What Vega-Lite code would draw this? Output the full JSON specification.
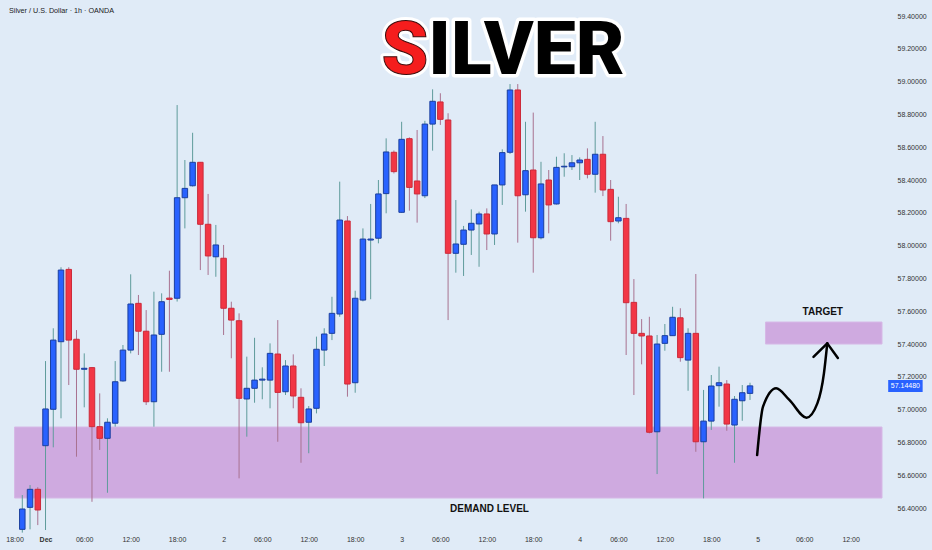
{
  "$schema": "https://vega.github.io/schema/vega-lite/v6.json",
  "width": 887,
  "height": 530,
  "autosize": {"type": "none"},
  "padding": {"left": 0, "top": 0, "right": 45, "bottom": 20},
  "background": "#e0ebf7",
  "config": {
    "view": {"stroke": null},
    "axis": {"domain": false, "ticks": false, "grid": false, "title": null, "labelFont": "Liberation Sans", "labelFontSize": 7, "labelColor": "#333333", "labelOverlap": false, "labelBound": false},
    "axisY": {"labelOverlap": false, "tickCount": 16}
  },
  "datasets": {
    "candles": [
      {"n":0,"o":56.27,"h":56.479,"l":56.25,"c":56.394},
      {"n":1,"o":56.404,"h":56.54,"l":56.27,"c":56.514},
      {"n":2,"o":56.514,"h":56.527,"l":56.296,"c":56.388},
      {"n":3,"o":56.78,"h":57.296,"l":56.266,"c":57.004},
      {"n":4,"o":57.002,"h":57.496,"l":56.77,"c":57.424},
      {"n":5,"o":57.414,"h":57.868,"l":56.947,"c":57.851},
      {"n":6,"o":57.855,"h":57.868,"l":57.15,"c":57.424},
      {"n":7,"o":57.429,"h":57.485,"l":56.713,"c":57.246},
      {"n":8,"o":57.246,"h":57.343,"l":57.014,"c":57.252},
      {"n":9,"o":57.256,"h":57.26,"l":56.438,"c":56.896},
      {"n":10,"o":56.896,"h":57.099,"l":56.754,"c":56.825},
      {"n":11,"o":56.825,"h":56.947,"l":56.493,"c":56.923},
      {"n":12,"o":56.917,"h":57.296,"l":56.896,"c":57.17},
      {"n":13,"o":57.175,"h":57.394,"l":57.17,"c":57.363},
      {"n":14,"o":57.363,"h":57.825,"l":57.343,"c":57.644},
      {"n":15,"o":57.648,"h":57.699,"l":57.333,"c":57.478},
      {"n":16,"o":57.478,"h":57.607,"l":57.028,"c":57.048},
      {"n":17,"o":57.048,"h":57.719,"l":56.896,"c":57.455},
      {"n":18,"o":57.459,"h":57.709,"l":57.231,"c":57.658},
      {"n":19,"o":57.68,"h":57.847,"l":57.231,"c":57.672},
      {"n":20,"o":57.679,"h":58.857,"l":57.659,"c":58.292},
      {"n":21,"o":58.292,"h":58.522,"l":58.105,"c":58.349},
      {"n":22,"o":58.365,"h":58.688,"l":58.36,"c":58.508},
      {"n":23,"o":58.508,"h":58.51,"l":57.851,"c":58.13},
      {"n":24,"o":58.13,"h":58.315,"l":57.821,"c":57.937},
      {"n":25,"o":57.932,"h":58.126,"l":57.81,"c":58.004},
      {"n":26,"o":57.923,"h":58.004,"l":57.455,"c":57.618},
      {"n":27,"o":57.618,"h":57.658,"l":57.313,"c":57.546},
      {"n":28,"o":57.542,"h":57.587,"l":56.581,"c":57.069},
      {"n":29,"o":57.065,"h":57.323,"l":56.835,"c":57.13},
      {"n":30,"o":57.13,"h":57.438,"l":57.042,"c":57.18},
      {"n":31,"o":57.18,"h":57.258,"l":57.063,"c":57.186},
      {"n":32,"o":57.18,"h":57.404,"l":57.008,"c":57.343},
      {"n":33,"o":57.339,"h":57.546,"l":56.804,"c":57.105},
      {"n":34,"o":57.109,"h":57.302,"l":57.089,"c":57.266},
      {"n":35,"o":57.266,"h":57.337,"l":57.008,"c":57.083},
      {"n":36,"o":57.075,"h":57.13,"l":56.676,"c":56.92},
      {"n":37,"o":56.923,"h":57.022,"l":56.734,"c":57.004},
      {"n":38,"o":57.008,"h":57.445,"l":56.977,"c":57.368},
      {"n":39,"o":57.363,"h":57.496,"l":57.266,"c":57.461},
      {"n":40,"o":57.465,"h":57.688,"l":57.424,"c":57.587},
      {"n":41,"o":57.583,"h":58.39,"l":57.566,"c":58.156},
      {"n":42,"o":58.15,"h":58.18,"l":57.079,"c":57.156},
      {"n":43,"o":57.164,"h":57.725,"l":57.103,"c":57.679},
      {"n":44,"o":57.668,"h":58.105,"l":57.66,"c":58.04},
      {"n":45,"o":58.034,"h":58.254,"l":57.673,"c":58.04},
      {"n":46,"o":58.045,"h":58.4,"l":58.014,"c":58.315},
      {"n":47,"o":58.317,"h":58.654,"l":58.197,"c":58.571},
      {"n":48,"o":58.569,"h":58.58,"l":58.44,"c":58.451},
      {"n":49,"o":58.203,"h":58.755,"l":58.2,"c":58.648},
      {"n":50,"o":58.652,"h":58.66,"l":58.213,"c":58.355},
      {"n":51,"o":58.394,"h":58.705,"l":58.14,"c":58.315},
      {"n":52,"o":58.304,"h":58.761,"l":58.29,"c":58.741},
      {"n":53,"o":58.741,"h":58.953,"l":58.579,"c":58.88},
      {"n":54,"o":58.876,"h":58.929,"l":58.736,"c":58.77},
      {"n":55,"o":58.766,"h":58.807,"l":57.546,"c":57.953},
      {"n":56,"o":57.953,"h":58.278,"l":57.835,"c":58.01},
      {"n":57,"o":58.008,"h":58.12,"l":57.815,"c":58.095},
      {"n":58,"o":58.095,"h":58.221,"l":57.943,"c":58.136},
      {"n":59,"o":58.132,"h":58.207,"l":57.871,"c":58.193},
      {"n":60,"o":58.193,"h":58.227,"l":57.973,"c":58.071},
      {"n":61,"o":58.071,"h":58.37,"l":58.004,"c":58.37},
      {"n":62,"o":58.37,"h":58.587,"l":58.248,"c":58.567},
      {"n":63,"o":58.569,"h":58.985,"l":58.559,"c":58.949},
      {"n":64,"o":58.949,"h":58.985,"l":58.018,"c":58.304},
      {"n":65,"o":58.31,"h":58.755,"l":58.207,"c":58.457},
      {"n":66,"o":58.461,"h":58.811,"l":57.835,"c":58.048},
      {"n":67,"o":58.048,"h":58.511,"l":58.038,"c":58.376},
      {"n":68,"o":58.4,"h":58.461,"l":58.075,"c":58.248},
      {"n":69,"o":58.254,"h":58.542,"l":58.25,"c":58.477},
      {"n":70,"o":58.48,"h":58.563,"l":58.42,"c":58.484},
      {"n":71,"o":58.481,"h":58.552,"l":58.461,"c":58.505},
      {"n":72,"o":58.505,"h":58.538,"l":58.4,"c":58.522},
      {"n":73,"o":58.526,"h":58.593,"l":58.41,"c":58.435},
      {"n":74,"o":58.435,"h":58.755,"l":58.323,"c":58.557},
      {"n":75,"o":58.557,"h":58.668,"l":58.302,"c":58.339},
      {"n":76,"o":58.343,"h":58.4,"l":58.03,"c":58.146},
      {"n":77,"o":58.15,"h":58.298,"l":58.136,"c":58.17},
      {"n":78,"o":58.166,"h":58.254,"l":57.333,"c":57.652},
      {"n":79,"o":57.654,"h":57.796,"l":57.089,"c":57.465},
      {"n":80,"o":57.465,"h":57.552,"l":57.276,"c":57.449},
      {"n":81,"o":57.449,"h":57.566,"l":56.855,"c":56.862},
      {"n":82,"o":56.865,"h":57.455,"l":56.607,"c":57.4},
      {"n":83,"o":57.404,"h":57.522,"l":57.359,"c":57.451},
      {"n":84,"o":57.451,"h":57.627,"l":57.45,"c":57.563},
      {"n":85,"o":57.56,"h":57.618,"l":57.292,"c":57.317},
      {"n":86,"o":57.302,"h":57.496,"l":57.115,"c":57.465},
      {"n":87,"o":57.465,"h":57.827,"l":56.743,"c":56.804},
      {"n":88,"o":56.804,"h":57.12,"l":56.459,"c":56.93},
      {"n":89,"o":56.93,"h":57.211,"l":56.876,"c":57.144},
      {"n":90,"o":57.146,"h":57.262,"l":57.018,"c":57.164},
      {"n":91,"o":57.156,"h":57.18,"l":56.871,"c":56.912},
      {"n":92,"o":56.906,"h":57.083,"l":56.676,"c":57.063},
      {"n":93,"o":57.054,"h":57.15,"l":56.932,"c":57.103},
      {"n":94,"o":57.099,"h":57.164,"l":57.059,"c":57.1448}
    ],
    "zones": [
      {"zone":"demand","x1":-1.0,"x2":111.05,"y1":56.461,"y2":56.894},
      {"zone":"target","x1":96.0,"x2":111.05,"y1":57.4,"y2":57.534}
    ],
    "curve": [
      {"n":94.92,"p":56.723},
      {"n":95.68,"p":57.018},
      {"n":97.38,"p":57.13},
      {"n":99.08,"p":57.059},
      {"n":101.3,"p":56.951},
      {"n":102.7,"p":57.038},
      {"n":103.55,"p":57.221},
      {"n":103.98,"p":57.404}
    ],
    "head": [
      {"n":102.2,"p":57.321},
      {"n":103.98,"p":57.404},
      {"n":105.35,"p":57.315}
    ],
    "last": [{"price":57.1448,"label":"57.14480"}]
  },
  "layer": [
    {
      "data": {"name": "zones"},
      "mark": {"type": "rect", "color": "#cfaae0", "stroke": "#d6b8e6", "strokeWidth": 1},
      "encoding": {
        "x": {"field": "x1", "type": "quantitative",
              "scale": {"domain": [-2.235, 111.05], "nice": false, "zero": false},
              "axis": {"orient": "bottom",
                       "values": [-1,3,8,14,20,26,31,37,43,49,54,60,66,72,77,83,89,95,101,107],
                       "labelExpr": "['18:00','Dec','06:00','12:00','18:00','2','06:00','12:00','18:00','3','06:00','12:00','18:00','4','06:00','12:00','18:00','5','06:00','12:00'][indexof([-1,3,8,14,20,26,31,37,43,49,54,60,66,72,77,83,89,95,101,107], datum.value)]",
                       "labelPadding": 5, "labelFlush": false, "labelOverlap": false,
                       "labelFontWeight": {"condition": {"test": "datum.value == 3", "value": "bold"}, "value": "normal"}}},
        "x2": {"field": "x2"},
        "y": {"field": "y1", "type": "quantitative",
              "scale": {"domain": [56.266, 59.4976], "nice": false, "zero": false},
              "axis": {"orient": "right", "tickCount": 16,
                       "format": ".5f", "labelPadding": 10, "labelFlush": false, "labelOverlap": false}},
        "y2": {"field": "y2"}
      }
    },
    {
      "data": {"name": "candles"},
      "mark": {"type": "rule", "strokeWidth": 1},
      "encoding": {
        "x": {"field": "n", "type": "quantitative"},
        "y": {"field": "l", "type": "quantitative"},
        "y2": {"field": "h"},
        "color": {"condition": {"test": "datum.c >= datum.o", "value": "#5f9b9b"}, "value": "#a87290"}
      }
    },
    {
      "data": {"name": "candles"},
      "mark": {"type": "bar", "width": 5.5, "strokeWidth": 1},
      "encoding": {
        "x": {"field": "n", "type": "quantitative"},
        "y": {"field": "o", "type": "quantitative"},
        "y2": {"field": "c"},
        "fill": {"condition": {"test": "datum.c >= datum.o", "value": "#2962ff"}, "value": "#f23645"},
        "stroke": {"condition": {"test": "datum.c >= datum.o", "value": "#1b3f9e"}, "value": "#cc2a3a"}
      }
    },
    {
      "data": {"name": "curve"},
      "mark": {"type": "line", "color": "#000000", "strokeWidth": 2.5, "interpolate": "monotone", "strokeCap": "round"},
      "encoding": {
        "x": {"field": "n", "type": "quantitative"},
        "y": {"field": "p", "type": "quantitative"}
      }
    },
    {
      "data": {"name": "head"},
      "mark": {"type": "line", "color": "#000000", "strokeWidth": 2.5, "strokeCap": "round", "strokeJoin": "round"},
      "encoding": {
        "x": {"field": "n", "type": "quantitative"},
        "y": {"field": "p", "type": "quantitative"}
      }
    },
    {
      "data": {"name": "last"},
      "mark": {"type": "rect", "color": "#2962ff"},
      "encoding": {
        "x": {"datum": 111.85},
        "x2": {"datum": 116.3},
        "y": {"datum": 57.181},
        "y2": {"datum": 57.108}
      }
    },
    {
      "data": {"name": "last"},
      "mark": {"type": "text", "color": "#ffffff", "font": "Liberation Sans", "fontSize": 7, "align": "center", "baseline": "middle", "dy": 0.5},
      "encoding": {
        "x": {"datum": 114.07},
        "y": {"field": "price", "type": "quantitative"},
        "text": {"field": "label"}
      }
    },
    {
      "data": {"values": [{"t": "TARGET"}]},
      "mark": {"type": "text", "color": "#111111", "font": "Liberation Sans", "fontWeight": "bold", "fontSize": 10, "align": "center", "baseline": "middle"},
      "encoding": {"x": {"datum": 103.4}, "y": {"datum": 57.598}, "text": {"field": "t"}}
    },
    {
      "data": {"values": [{"t": "DEMAND LEVEL"}]},
      "mark": {"type": "text", "color": "#111111", "font": "Liberation Sans", "fontWeight": "bold", "fontSize": 10, "align": "center", "baseline": "middle"},
      "encoding": {"x": {"datum": 60.35}, "y": {"datum": 56.394}, "text": {"field": "t"}}
    },
    {
      "data": {"values": [{"t": "Silver / U.S. Dollar · 1h · OANDA"}]},
      "mark": {"type": "text", "color": "#1a1a1a", "font": "Liberation Sans", "fontSize": 7.2, "fontWeight": 500, "align": "left", "baseline": "middle"},
      "encoding": {"x": {"datum": -1.72}, "y": {"datum": 59.43}, "text": {"field": "t"}}
    },
    {
      "data": {"values": [{"t": "ILVER"}]},
      "mark": {"type": "text", "fill": "#000000", "stroke": "#ffffff", "strokeWidth": 7, "strokeJoin": "round", "font": "Roboto", "fontWeight": 900, "fontSize": 75, "align": "left", "baseline": "alphabetic"},
      "encoding": {"x": {"datum": 52.45}, "y": {"datum": 59.045}, "text": {"field": "t"}}
    },
    {
      "data": {"values": [{"t": "S"}]},
      "mark": {"type": "text", "fill": "#000000", "stroke": "#ffffff", "strokeWidth": 7, "strokeJoin": "round", "font": "Roboto", "fontWeight": 900, "fontSize": 75, "align": "right", "baseline": "alphabetic"},
      "encoding": {"x": {"datum": 52.45}, "y": {"datum": 59.045}, "text": {"field": "t"}}
    },
    {
      "data": {"values": [{"t": "ILVER"}]},
      "mark": {"type": "text", "fill": "#000000", "font": "Roboto", "fontWeight": 900, "fontSize": 75, "align": "left", "baseline": "alphabetic"},
      "encoding": {"x": {"datum": 52.45}, "y": {"datum": 59.045}, "text": {"field": "t"}}
    },
    {
      "data": {"values": [{"t": "S"}]},
      "mark": {"type": "text", "fill": "#f51d1d", "stroke": "#3a0a0a", "strokeWidth": 1, "font": "Roboto", "fontWeight": 900, "fontSize": 75, "align": "right", "baseline": "alphabetic"},
      "encoding": {"x": {"datum": 52.45}, "y": {"datum": 59.045}, "text": {"field": "t"}}
    }
  ]
}
